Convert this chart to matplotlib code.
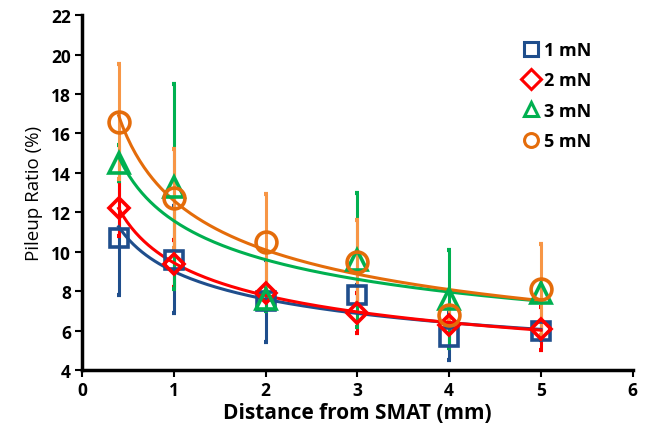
import numpy as np
import matplotlib
matplotlib.use("Agg")
import matplotlib.pyplot as plt

plt.rcParams['font.family'] = ['Open Sans', 'DejaVu Sans']

distance = [0.4, 1, 2, 3, 4, 5]
labels = ["1 mN", "2 mN", "3 mN", "5 mN"]
ratio_1mN = [10.7, 9.6, 7.5, 7.8, 5.7, 6.0]
ratio_2mN = [12.2, 9.4, 7.9, 6.9, 6.3, 6.1]
ratio_3mN = [14.5, 13.3, 7.6, 9.6, 7.6, 7.9]
ratio_5mN = [16.6, 12.7, 10.5, 9.5, 6.8, 8.1]
err_1mN = [2.9, 2.7, 2.1, 0.5, 1.2, 0.5]
err_2mN = [1.4, 1.2, 0.4, 1.0, 0.4, 1.1]
err_3mN = [0.9, 5.2, 0.6, 3.4, 2.5, 0.4]
err_5mN = [2.9, 2.5, 2.45, 2.1, 0.3, 2.3]

series = [ratio_1mN, ratio_2mN, ratio_3mN, ratio_5mN]
errors = [err_1mN, err_2mN, err_3mN, err_5mN]
colors = ['#1F4E8C', '#FF0000', '#00B050', '#E46C0A']
ecolors = ['#1F4E8C', '#FF0000', '#00B050', '#F79646']
markers = ['s', 'D', '^', 'o']
msizes = [13, 10, 14, 15]

fig = plt.figure(figsize=(6.45, 4.35), dpi=100)
ax = fig.add_axes([0.127, 0.147, 0.854, 0.816])

x = np.array(distance)
for ys, es, c, ec, m, ms, lab in zip(series, errors, colors, ecolors, markers, msizes, labels):
    ys = np.array(ys)
    ax.errorbar(x, ys, yerr=es, fmt='none', ecolor=ec, elinewidth=2.2, capsize=1.5, capthick=3, zorder=2)
    # power-law trendline y = a * x^b
    b, lna = np.polyfit(np.log(x), np.log(ys), 1)
    xf = np.linspace(x.min(), x.max(), 200)
    ax.plot(xf, np.exp(lna) * xf ** b, color=c, lw=2.2, zorder=3)
    ax.plot(x, ys, linestyle='none', marker=m, markersize=ms, markerfacecolor='none',
            markeredgecolor=c, markeredgewidth=2.6, zorder=4, label=lab)

ax.set_xlim(0, 6)
ax.set_ylim(4, 22)
ax.set_xticks(range(0, 7))
ax.set_yticks(range(4, 23, 2))
for s in ['top', 'right']:
    ax.spines[s].set_visible(False)
for s in ['left', 'bottom']:
    ax.spines[s].set_linewidth(2.5)
ax.tick_params(direction='out', length=5, width=1.5, labelsize=12.5, pad=3)
for t in ax.get_xticklabels() + ax.get_yticklabels():
    t.set_fontweight('bold')

ax.set_xlabel('Distance from SMAT (mm)', fontsize=15, fontweight='bold', labelpad=2)
ax.set_ylabel('Pileup Ratio (%)', fontsize=13.5, labelpad=6)

leg_handles = []
for c, m, lab in zip(colors, markers, labels):
    leg_handles.append(plt.Line2D([], [], linestyle='none', marker=m, markersize=10,
                                  markerfacecolor='none', markeredgecolor=c, markeredgewidth=2.2, label=lab))
leg = fig.legend(handles=leg_handles, loc='upper left', bbox_to_anchor=(0.81, 0.903), frameon=False,
                 prop={'size': 13, 'weight': 'bold'}, handletextpad=0.2, labelspacing=0.68,
                 handlelength=1.0, borderpad=0, borderaxespad=0)

fig.savefig('out.png', dpi=100)
